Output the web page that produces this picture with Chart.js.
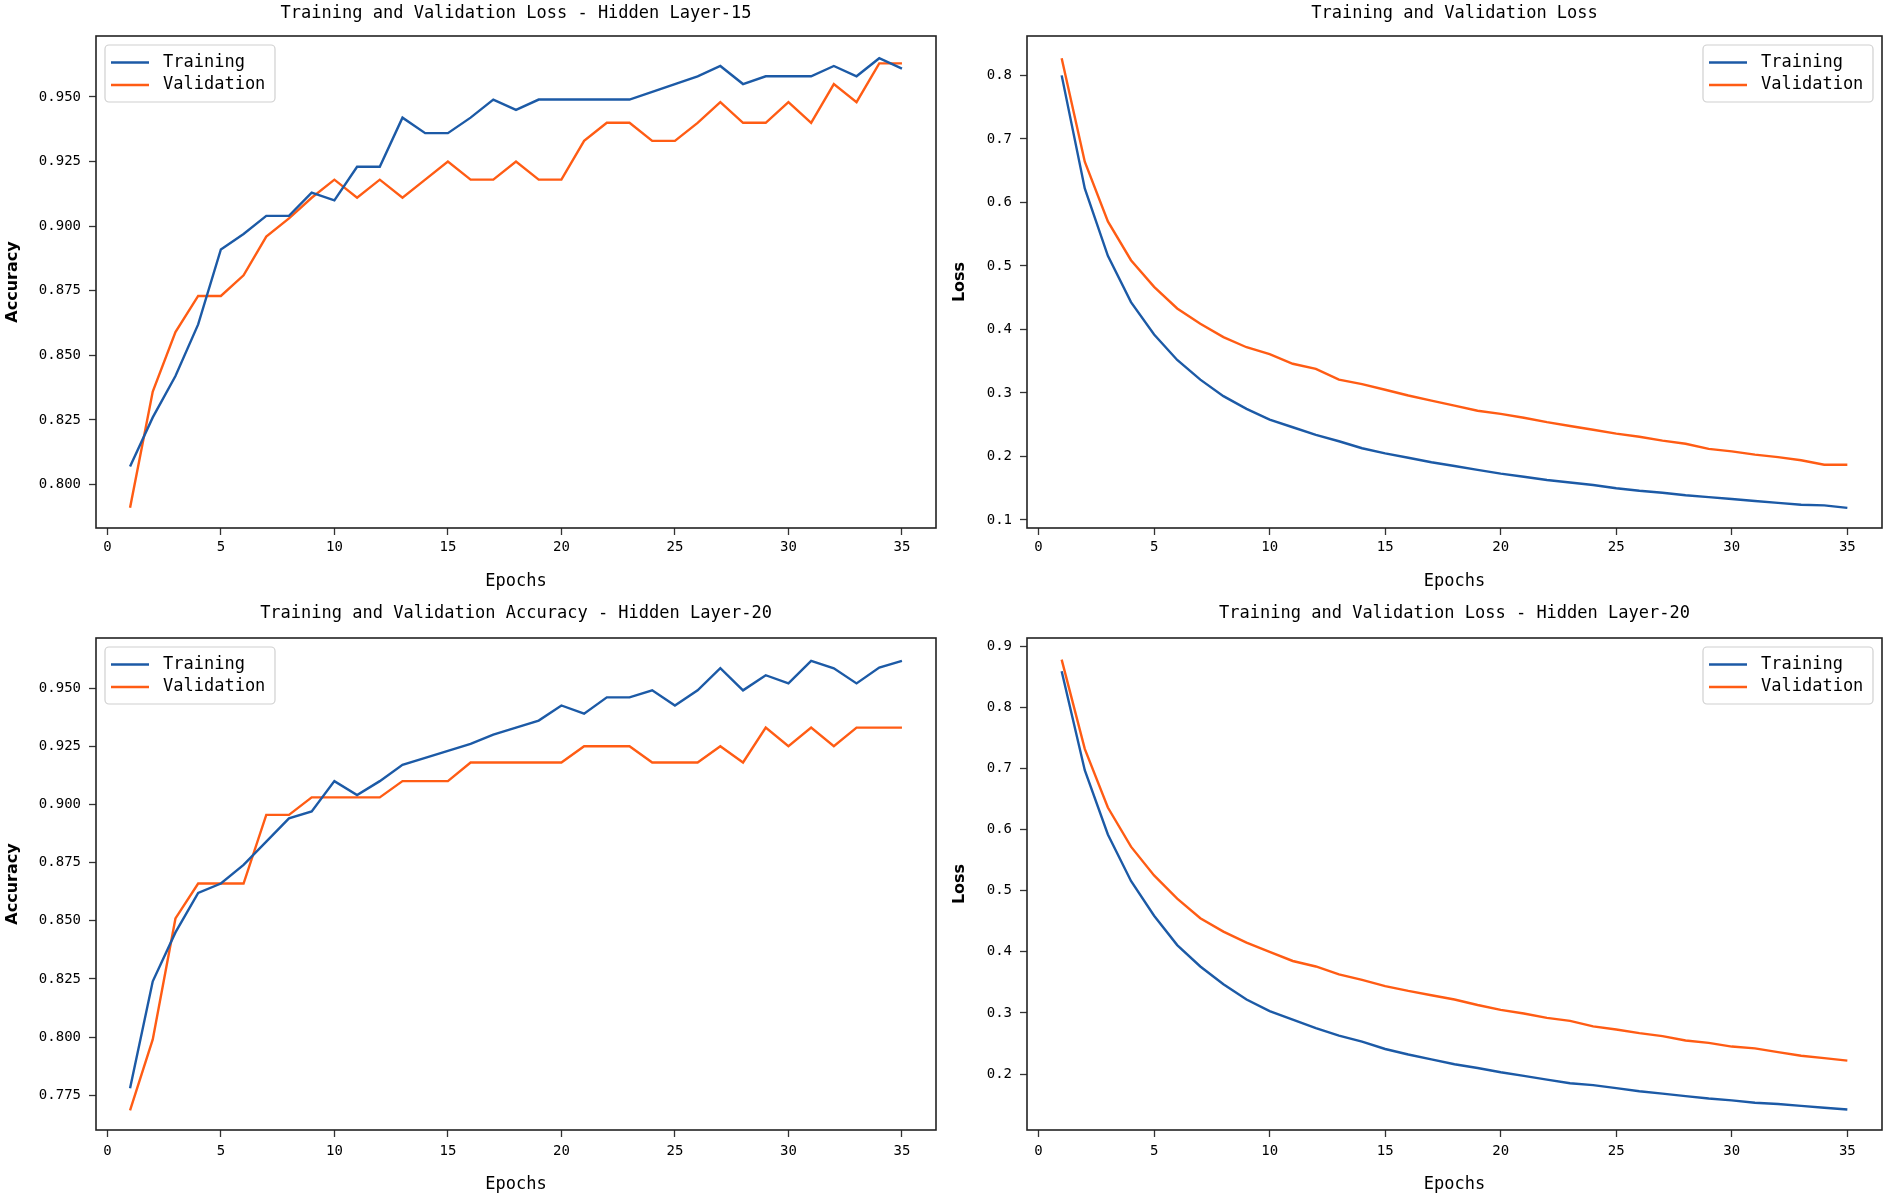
<!DOCTYPE html>
<html>
<head>
<meta charset="utf-8">
<script src="https://cdn.jsdelivr.net/npm/chart.js@4.4.1/dist/chart.umd.min.js"></script>
<style>
  html, body { margin: 0; padding: 0; background: #fff; }
  #wrap { position: relative; width: 1887px; height: 1195px; }
  canvas { position: absolute; }
</style>
</head>
<body>
<div id="wrap">
  <canvas id="accChart15" width="940" height="595" style="left:0;top:0"></canvas>
  <canvas id="lossChart15" width="947" height="595" style="left:940px;top:0"></canvas>
  <canvas id="accChart20" width="940" height="600" style="left:0;top:595px"></canvas>
  <canvas id="lossChart20" width="947" height="600" style="left:940px;top:595px"></canvas>
</div>
<script>
// ===== DATA =====
const epochs = [1,2,3,4,5,6,7,8,9,10,11,12,13,14,15,16,17,18,19,20,21,22,23,24,25,26,27,28,29,30,31,32,33,34,35];
const xTicks = [0,5,10,15,20,25,30,35];

// Hidden layer 15
const trainAcc15 = [0.807,0.826,0.842,0.862,0.891,0.897,0.904,0.904,0.913,0.910,0.923,0.923,0.942,0.936,0.936,0.942,0.949,0.945,0.949,0.949,0.949,0.949,0.949,0.952,0.955,0.958,0.962,0.955,0.958,0.958,0.958,0.962,0.958,0.965,0.961];
const valAcc15 = [0.791,0.836,0.859,0.873,0.873,0.881,0.896,0.903,0.911,0.918,0.911,0.918,0.911,0.918,0.925,0.918,0.918,0.925,0.918,0.918,0.933,0.940,0.940,0.933,0.933,0.940,0.948,0.940,0.940,0.948,0.940,0.955,0.948,0.963,0.963];
const trainLoss15 = [0.800,0.622,0.516,0.443,0.392,0.352,0.321,0.295,0.275,0.258,0.246,0.234,0.224,0.213,0.205,0.198,0.191,0.185,0.179,0.173,0.168,0.163,0.159,0.155,0.150,0.146,0.143,0.139,0.136,0.133,0.130,0.127,0.124,0.123,0.119];
const valLoss15 = [0.827,0.664,0.570,0.509,0.467,0.433,0.409,0.388,0.372,0.361,0.346,0.338,0.321,0.314,0.305,0.296,0.288,0.280,0.272,0.267,0.261,0.254,0.248,0.242,0.236,0.231,0.225,0.220,0.212,0.208,0.203,0.199,0.194,0.187,0.187];

// Hidden layer 20
const trainAcc20 = [0.778,0.824,0.845,0.862,0.866,0.874,0.884,0.894,0.897,0.910,0.904,0.910,0.917,0.920,0.923,0.926,0.930,0.933,0.936,0.9425,0.939,0.946,0.946,0.949,0.9425,0.949,0.9585,0.949,0.9555,0.952,0.9617,0.9585,0.952,0.9588,0.9617];
const valAcc20 = [0.7685,0.799,0.851,0.866,0.866,0.866,0.8955,0.8955,0.903,0.903,0.903,0.903,0.910,0.910,0.910,0.918,0.918,0.918,0.918,0.918,0.925,0.925,0.925,0.918,0.918,0.918,0.925,0.918,0.933,0.925,0.933,0.925,0.933,0.933,0.933];
const trainLoss20 = [0.859,0.697,0.592,0.516,0.459,0.411,0.376,0.347,0.322,0.303,0.289,0.275,0.263,0.253,0.241,0.232,0.224,0.216,0.210,0.203,0.197,0.191,0.185,0.182,0.177,0.172,0.168,0.164,0.160,0.157,0.153,0.151,0.148,0.145,0.142];
const valLoss20 = [0.878,0.732,0.636,0.572,0.525,0.487,0.455,0.433,0.415,0.400,0.385,0.376,0.363,0.354,0.344,0.336,0.329,0.322,0.313,0.305,0.299,0.292,0.287,0.278,0.273,0.267,0.262,0.255,0.251,0.245,0.242,0.236,0.230,0.226,0.222];

// Tick labels
const accTicks15 = [0.800,0.825,0.850,0.875,0.900,0.925,0.950];
const lossTicks15 = [0.1,0.2,0.3,0.4,0.5,0.6,0.7,0.8];
const accTicks20 = [0.775,0.800,0.825,0.850,0.875,0.900,0.925,0.950];
const lossTicks20 = [0.2,0.3,0.4,0.5,0.6,0.7,0.8,0.9];

const BLUE = '#1c5aa6';
const ORANGE = '#ff5c14';
const MONO = "'DejaVu Sans Mono', monospace";

Chart.defaults.font.family = MONO;
Chart.defaults.color = '#000';

// marco completo alrededor del area de datos
const framePlugin = {
    id: 'frame',
    afterDatasetsDraw(chart) {
        const a = chart.chartArea, ctx = chart.ctx;
        ctx.save();
        ctx.strokeStyle = '#222';
        ctx.lineWidth = 1.6;
        ctx.strokeRect(a.left, a.top, a.right - a.left, a.bottom - a.top);
        ctx.restore();
    }
};

// leyenda con caja redondeada dentro del area
const boxLegendPlugin = {
    id: 'boxLegend',
    afterDraw(chart, args, opts) {
        const a = chart.chartArea, ctx = chart.ctx;
        const w = 170, h = 57;
        const x = opts.side === 'right' ? a.right - 9 - w : a.left + 9;
        const y = a.top + 9;
        ctx.save();
        ctx.beginPath();
        ctx.roundRect(x, y, w, h, 4);
        ctx.fillStyle = 'rgba(255,255,255,0.85)';
        ctx.fill();
        ctx.strokeStyle = '#d0d0d0';
        ctx.lineWidth = 1.2;
        ctx.stroke();
        ctx.font = '17px ' + MONO;
        ctx.textBaseline = 'middle';
        chart.data.datasets.forEach(function(ds, i) {
            const ry = y + 17.5 + i * 22.5;
            ctx.strokeStyle = ds.borderColor;
            ctx.lineWidth = 2.5;
            ctx.beginPath();
            ctx.moveTo(x + 6, ry);
            ctx.lineTo(x + 44, ry);
            ctx.stroke();
            ctx.fillStyle = '#000';
            ctx.fillText(ds.label, x + 58, ry);
        });
        ctx.restore();
    }
};

function series(vals) {
    return epochs.map(function(e, i) { return { x: e, y: vals[i] }; });
}

function makeChart(id, cfg) {
    const yWidth = cfg.yWidth;
    const xHeight = cfg.xHeight;
    return new Chart(document.getElementById(id), {
        type: 'line',
        data: {
            datasets: [
                { label: 'Training', data: series(cfg.train), borderColor: BLUE, borderWidth: 2.4, pointRadius: 0, tension: 0 },
                { label: 'Validation', data: series(cfg.val), borderColor: ORANGE, borderWidth: 2.4, pointRadius: 0, tension: 0 }
            ]
        },
        options: {
            responsive: false,
            animation: false,
            layout: { padding: { left: 0, right: cfg.padRight, top: 0, bottom: 0 } },
            scales: {
                x: {
                    type: 'linear',
                    min: -0.5,
                    max: 36.5,
                    afterBuildTicks: function(scale) { scale.ticks = xTicks.map(function(v) { return { value: v }; }); },
                    afterFit: function(scale) { scale.height = xHeight; },
                    ticks: { font: { size: 14 }, color: '#000', padding: cfg.xTickPad, maxRotation: 0 },
                    grid: { drawOnChartArea: false, drawTicks: true, tickLength: 7, tickColor: '#333', tickWidth: 1.3 },
                    border: { display: false },
                    title: { display: true, text: 'Epochs', color: '#000', font: { size: 17 }, padding: { top: 0, bottom: cfg.xTitlePad } }
                },
                y: {
                    type: 'linear',
                    min: cfg.yMin,
                    max: cfg.yMax,
                    afterBuildTicks: function(scale) { scale.ticks = cfg.yTicks.map(function(v) { return { value: v }; }); },
                    afterFit: function(scale) { scale.width = yWidth; },
                    ticks: {
                        font: { size: 14 }, color: '#000', padding: 8,
                        callback: function(v) { return v.toFixed(cfg.decimals); }
                    },
                    grid: { drawOnChartArea: false, drawTicks: true, tickLength: 7, tickColor: '#333', tickWidth: 1.3 },
                    border: { display: false },
                    title: { display: true, text: cfg.yLabel, color: '#000', font: { family: "'DejaVu Sans', sans-serif", weight: 'bold', size: 16 }, padding: { top: cfg.yTitlePad, bottom: 0 } }
                }
            },
            plugins: {
                legend: { display: false },
                tooltip: { enabled: false },
                title: {
                    display: true,
                    fullSize: false,
                    text: cfg.title,
                    color: '#000',
                    font: { size: 17, weight: 'normal' },
                    padding: cfg.titlePad
                },
                boxLegend: { side: cfg.legendSide }
            }
        },
        plugins: [framePlugin, boxLegendPlugin]
    });
}

makeChart('accChart15', {
    title: 'Training and Validation Loss - Hidden Layer-15',
    train: trainAcc15, val: valAcc15, yTicks: accTicks15, decimals: 3,
    yMin: 0.7832, yMax: 0.9736, yLabel: 'Accuracy', legendSide: 'left',
    yWidth: 96, xHeight: 67, padRight: 4, yTitlePad: 3, xTitlePad: 3, xTickPad: 4,
    titlePad: { top: 3, bottom: 12.6 }
});

makeChart('lossChart15', {
    title: 'Training and Validation Loss',
    train: trainLoss15, val: valLoss15, yTicks: lossTicks15, decimals: 1,
    yMin: 0.0874, yMax: 0.862, yLabel: 'Loss', legendSide: 'right',
    yWidth: 87, xHeight: 67, padRight: 5, yTitlePad: 10.4, xTitlePad: 3, xTickPad: 4,
    titlePad: { top: 3, bottom: 12.6 }
});

makeChart('accChart20', {
    title: 'Training and Validation Accuracy - Hidden Layer-20',
    train: trainAcc20, val: valAcc20, yTicks: accTicks20, decimals: 3,
    yMin: 0.7601, yMax: 0.9715, yLabel: 'Accuracy', legendSide: 'left',
    yWidth: 96, xHeight: 65, padRight: 4, yTitlePad: 3, xTitlePad: 0, xTickPad: 6,
    titlePad: { top: 8, bottom: 14.6 }
});

makeChart('lossChart20', {
    title: 'Training and Validation Loss - Hidden Layer-20',
    train: trainLoss20, val: valLoss20, yTicks: lossTicks20, decimals: 1,
    yMin: 0.1085, yMax: 0.9134, yLabel: 'Loss', legendSide: 'right',
    yWidth: 87, xHeight: 65, padRight: 5, yTitlePad: 10.4, xTitlePad: 0, xTickPad: 6,
    titlePad: { top: 8, bottom: 14.6 }
});
</script>
</body>
</html>
